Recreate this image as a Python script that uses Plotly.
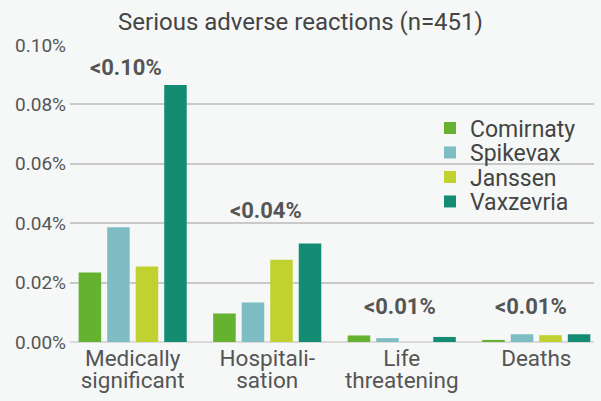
import plotly.graph_objects as go

categories = ["Medically significant", "Hospitalisation", "Life threatening", "Deaths"]
label_line1 = ["Medically", "Hospitali-", "Life", "Deaths"]
label_line2 = ["significant", "sation", "threatening", ""]
series_names = ["Comirnaty", "Spikevax", "Janssen", "Vaxzevria"]
comirnaty = [0.0234, 0.0096, 0.0022, 0.0007]
spikevax = [0.0386, 0.0133, 0.0013, 0.0026]
janssen = [0.0254, 0.0277, None, 0.0023]
vaxzevria = [0.0865, 0.0332, 0.0017, 0.0026]
group_labels = ["<0.10%", "<0.04%", "<0.01%", "<0.01%"]
label_y = [0.0925, 0.0444, 0.0118, 0.0118]
label_xshift = [-7, -1, -2, -5]
y_tickvals = [0.0, 0.02, 0.04, 0.06, 0.08, 0.10]
y_ticktext = ["0.00%", "0.02%", "0.04%", "0.06%", "0.08%", "0.10%"]

colors = ["#64b22f", "#7dbdc3", "#c1d130", "#148c73"]
series_values = [comirnaty, spikevax, janssen, vaxzevria]

FONT = "Roboto"
BG = "#f5f8f7"
TXT = "#555555"

L, R, T, B = 70, 7, 45, 59
W, H = 601, 401
plot_h = H - T - B

fig = go.Figure()
legend_ids = ["legend", "legend2", "legend3", "legend4"]
legend_rows_px = [128, 152.5, 177, 201.5]
for name, vals, col, lg in zip(series_names, series_values, colors, legend_ids):
    fig.add_trace(go.Bar(name=name, x=categories, y=vals, legend=lg,
                         marker=dict(color=col, line=dict(width=0))))

# empty trace so the second (label-only) x axis gets drawn
fig.add_trace(go.Scatter(x=[], y=[], xaxis="x2", yaxis="y", showlegend=False,
                         hoverinfo="skip"))

for cat, txt, yv, xs in zip(categories, group_labels, label_y, label_xshift):
    fig.add_annotation(x=cat, y=yv, text="<b>" + txt + "</b>", showarrow=False,
                       xshift=xs, yanchor="middle",
                       font=dict(family=FONT, size=22, color=TXT))

legend_common = dict(x=0.687, xanchor="left", yanchor="middle",
                     bgcolor="rgba(0,0,0,0)",
                     font=dict(family=FONT, size=23, color="#444444"),
                     tracegroupgap=0, itemwidth=30)
legend_layout = {}
for lg, ypx in zip(legend_ids, legend_rows_px):
    legend_layout[lg] = dict(legend_common, y=(H - B - ypx) / plot_h)

fig.update_layout(
    width=W, height=H,
    margin=dict(l=L, r=R, t=T, b=B),
    paper_bgcolor=BG, plot_bgcolor=BG,
    barmode="group", bargap=0.152, bargroupgap=0.21,
    title=dict(text="Serious adverse reactions (n=451)", x=0.5, xanchor="center",
               xref="container", y=1 - 22 / H, yref="container", yanchor="middle",
               font=dict(family=FONT, size=24, color="#444444")),
    font=dict(family=FONT, color=TXT),
    showlegend=True,
    **legend_layout,
)
xr = [-0.466, 3.429]
fig.update_layout(
    xaxis=dict(categoryorder="array", categoryarray=categories,
               tickvals=categories, ticktext=label_line1,
               range=xr, showgrid=False, ticks="", automargin=False,
               tickfont=dict(family=FONT, size=22.5, color=TXT),
               showline=False, zeroline=False),
    xaxis2=dict(overlaying="x", anchor="y", side="bottom", type="linear",
                range=xr, tickvals=[0, 1, 2, 3], ticktext=label_line2,
                showgrid=False, zeroline=False, showline=False, ticks="",
                automargin=False, ticklabelstandoff=22,
                tickfont=dict(family=FONT, size=22.5, color=TXT)),
    yaxis=dict(range=[0, 0.1], tickvals=y_tickvals, ticktext=y_ticktext,
               showgrid=True, gridcolor="#c9c9c9", gridwidth=1.5,
               zeroline=True, zerolinecolor="#dadada", zerolinewidth=2,
               automargin=False, ticklabelstandoff=3,
               tickfont=dict(family=FONT, size=19, color=TXT), ticks=""),
)

fig.write_html("out.html", config={"displayModeBar": False},
               post_script="document.body.style.margin='0';")
